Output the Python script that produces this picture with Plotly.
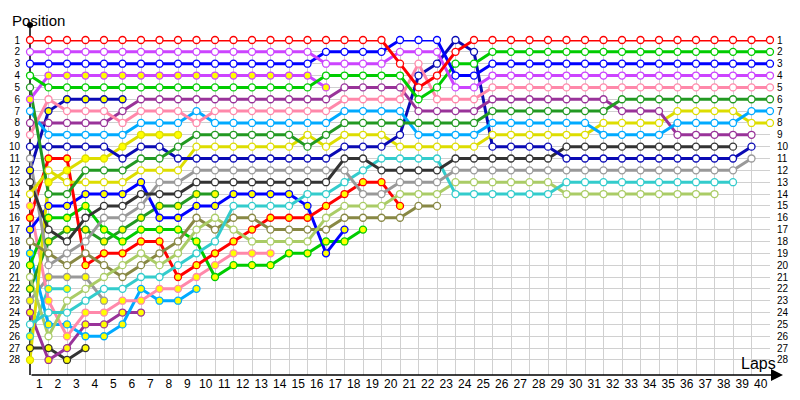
import plotly.graph_objects as go

# ---------------- data ----------------
lap_labels = list(range(1, 41))        # x tick labels
position_labels = list(range(1, 29))   # y tick labels

# Position per lap (index 0 = grid). Finishers (open markers)
red        = [1,1,1,1,1,1,1,1,1,1, 1,1,1,1,1,1,1,1,1,1, 3,5,4,2,1,1,1,1,1,1, 1,1,1,1,1,1,1,1,1,1, 1]
violet     = [2,2,2,2,2,2,2,2,2,2, 2,2,2,2,2,2,3,3,3,3, 2,2,2,5,5,4,4,4,4,4, 4,4,4,4,4,4,4,4,4,4, 4]
blue       = [3,3,3,3,3,3,3,3,3,3, 3,3,3,3,3,3,2,2,2,2, 1,1,1,4,4,3,3,3,3,3, 3,3,3,3,3,3,3,3,3,3, 3]
green      = [4,5,5,5,5,5,5,5,5,5, 5,5,5,5,5,5,4,4,4,4, 4,6,5,3,3,2,2,2,2,2, 2,2,2,2,2,2,2,2,2,2, 2]
darkgreen  = [5,14,14,12,12,12,11,11,10,9, 9,9,9,9,9,10,9,8,8,8, 8,8,8,8,8,7,7,7,7,7, 7,7,6,6,6,6,6,6,6,6, 6]
pink       = [9,6,7,7,7,8,7,7,7,8, 7,7,7,7,7,7,7,6,6,6, 6,3,6,6,6,5,5,5,5,5, 5,5,5,5,5,5,5,5,5,5, 5]
lightblue  = [7,9,9,9,9,9,8,8,8,7, 8,8,8,8,8,8,8,7,7,7, 7,9,9,9,9,8,8,8,8,8, 8,9,9,9,9,8,8,8,8,7, 7]
purple     = [8,8,8,8,8,7,6,6,6,6, 6,6,6,6,6,6,6,5,5,5, 5,7,7,7,7,6,6,6,6,6, 6,6,7,7,7,9,9,9,9,9]
navy       = [10,10,10,10,10,11,10,10,11,11, 11,11,11,11,11,11,11,10,10,10, 9,4,3,1,2,10,10,10,10,11, 11,11,11,11,11,11,11,11,11,10]
yellow     = [14,12,13,13,13,13,12,12,12,10, 10,10,10,10,10,9,10,9,9,9, 10,10,10,10,10,9,9,9,9,9, 9,8,8,8,8,7,7,7,7,8, 8]
black      = [13,17,18,16,15,15,14,14,14,13, 13,13,13,13,13,13,13,11,11,12, 12,12,12,11,11,11,11,11,11,10, 10,10,10,10,10,10,10,10,10]
gray       = [11,20,19,18,16,16,15,13,13,12, 12,12,12,12,12,12,12,12,14,14, 13,13,13,12,12,12,12,12,12,12, 12,12,12,12,12,12,12,12,12,11]
cyan       = [25,24,24,23,22,22,21,21,20,19, 18,15,15,15,15,14,14,13,12,11, 11,11,11,14,14,14,14,14,14,13, 13,13,13,13,13,13,13,13,13]
lightgreen = [21,26,23,22,21,20,19,20,19,17, 16,17,18,18,18,18,16,15,15,15, 14,14,14,13,13,13,13,13,13,14, 14,14,14,14,14,14,14,14]
olive      = [18,19,20,19,20,21,20,19,18,16, 17,16,16,17,17,17,17,16,16,16, 16,15,15]

# Retired drivers (yellow-filled markers)
violet_r    = [6,4,4,4,4,4,4,4,4,4, 4,4,4,4,4,4,5]
navy_r      = [12,7,6,6,6,6]
yellow_r    = [28,13,12,11,11,10,9,9,9]
red_r       = [16,11,11,20,19,19,18,18,21,20, 19,18,17,16,16,16,15,14,13,13, 15]
blue_r      = [17,15,15,14,14,14,13,16,16,15, 15,14,14,14,14,15,19,17]
green_r     = [20,16,16,15,17,18,17,17,17,18, 21,20,20,20,19,19,18,18,17]
darkgreen_r = [22,18,17,17,18,17,16,15,15,14, 14]
pink_r      = [15,23,26,24,24,23,23,22,22,21, 20,19,19,19]
lightblue_r = [19,25,25,26,26,25,22,23,23,22]
purple_r    = [24,28,27,25,25,24,24]
gray_r      = [23,21,21,21,23]
black_r     = [27,27,28,27]
cyan_r      = [26,22,22]

drivers = [
    (cyan_r, "#33cccc", True), (black_r, "#333333", True), (gray_r, "#999999", True),
    (purple_r, "#993399", True), (lightblue_r, "#00aaff", True), (pink_r, "#ff88aa", True),
    (darkgreen_r, "#229922", True), (green_r, "#00cc00", True), (blue_r, "#0000ff", True),
    (red_r, "#ff0000", True), (yellow_r, "#dddd00", True), (navy_r, "#0a0ab4", True),
    (violet_r, "#cc44ff", True),
    (olive, "#888844", False), (lightgreen, "#aacc66", False), (cyan, "#33cccc", False),
    (gray, "#999999", False), (black, "#333333", False), (yellow, "#dddd00", False),
    (navy, "#0a0ab4", False), (purple, "#993399", False), (lightblue, "#00aaff", False),
    (pink, "#ff88aa", False), (darkgreen, "#229922", False), (green, "#00cc00", False),
    (blue, "#0000ff", False), (violet, "#cc44ff", False), (red, "#ff0000", False),
]

# ---------------- figure ----------------
fig = go.Figure()
for pos, col, dnf in drivers:
    fig.add_trace(go.Scatter(
        x=list(range(len(pos))), y=pos, mode="lines",
        line=dict(color=col, width=3), cliponaxis=False,
        hoverinfo="skip", showlegend=False))
for pos, col, dnf in drivers:
    fig.add_trace(go.Scatter(
        x=list(range(len(pos))), y=pos, mode="markers",
        marker=dict(symbol="circle", size=7,
                    color="#ffff00" if dnf else "#ffffff",
                    line=dict(color=col, width=1.3)),
        cliponaxis=False, hoverinfo="skip", showlegend=False))

# invisible trace so the right-hand axis is drawn
fig.add_trace(go.Scatter(x=[0], y=[1], yaxis="y2", mode="markers",
                         marker=dict(opacity=0), hoverinfo="skip", showlegend=False))

FONT = "Liberation Sans, Arial, sans-serif"
yr = [29.27, 1]

fig.update_layout(
    width=792, height=392,
    margin=dict(l=22, r=30, t=32, b=25, autoexpand=False),
    paper_bgcolor="white", plot_bgcolor="white",
    font=dict(family=FONT, color="black"),
    xaxis=dict(
        range=[0, 40], tickmode="array", automargin=False,
        tickvals=[n - 0.5 for n in lap_labels], ticktext=[str(n) for n in lap_labels],
        showgrid=False, zeroline=False, showline=False, ticks="",
        tickfont=dict(size=12, family=FONT, color="black"),
        minor=dict(tick0=0, dtick=1, showgrid=True, gridcolor="#d0d0d0", gridwidth=1, ticks=""),
    ),
    yaxis=dict(
        range=yr, tickmode="array", tickvals=position_labels, automargin=False,
        ticktext=[str(p) for p in position_labels],
        showgrid=True, gridcolor="#d0d0d0", gridwidth=1, zeroline=False,
        showline=False, ticks="", ticklabelstandoff=9,
        tickfont=dict(size=10, family=FONT, color="black"),
    ),
    yaxis2=dict(
        range=yr, overlaying="y", side="right", tickmode="array", automargin=False,
        tickvals=position_labels, ticktext=[str(p) for p in position_labels],
        showgrid=False, zeroline=False, showline=False, ticks="", ticklabelstandoff=6,
        tickfont=dict(size=10, family=FONT, color="black"),
    ),
    shapes=[
        dict(type="line", xref="paper", yref="paper", x0=0, x1=0, y0=0, y1=1.045,
             line=dict(color="black", width=1.5), layer="below"),
    ],
    annotations=[
        dict(xref="paper", yref="paper", x=1.0176, y=0, ax=-753, ay=0,
             axref="pixel", ayref="pixel", text="", showarrow=True,
             arrowhead=2, arrowsize=1.6, arrowwidth=1.5, arrowcolor="black"),
        dict(xref="paper", yref="paper", x=0, y=1.045, text="", showarrow=True,
             ax=0, ay=2, arrowhead=6, arrowsize=1, arrowwidth=1.5, arrowcolor="black"),
        dict(xref="paper", yref="paper", x=-0.0275, y=1.09, xanchor="left", yanchor="top",
             text="Position", showarrow=False, font=dict(size=15, family=FONT, color="black")),
        dict(xref="paper", yref="paper", x=0.984, y=0.035, xanchor="center", yanchor="middle",
             text="Laps", showarrow=False, font=dict(size=16, family=FONT, color="black")),
    ],
)

fig.write_html("out.html")
